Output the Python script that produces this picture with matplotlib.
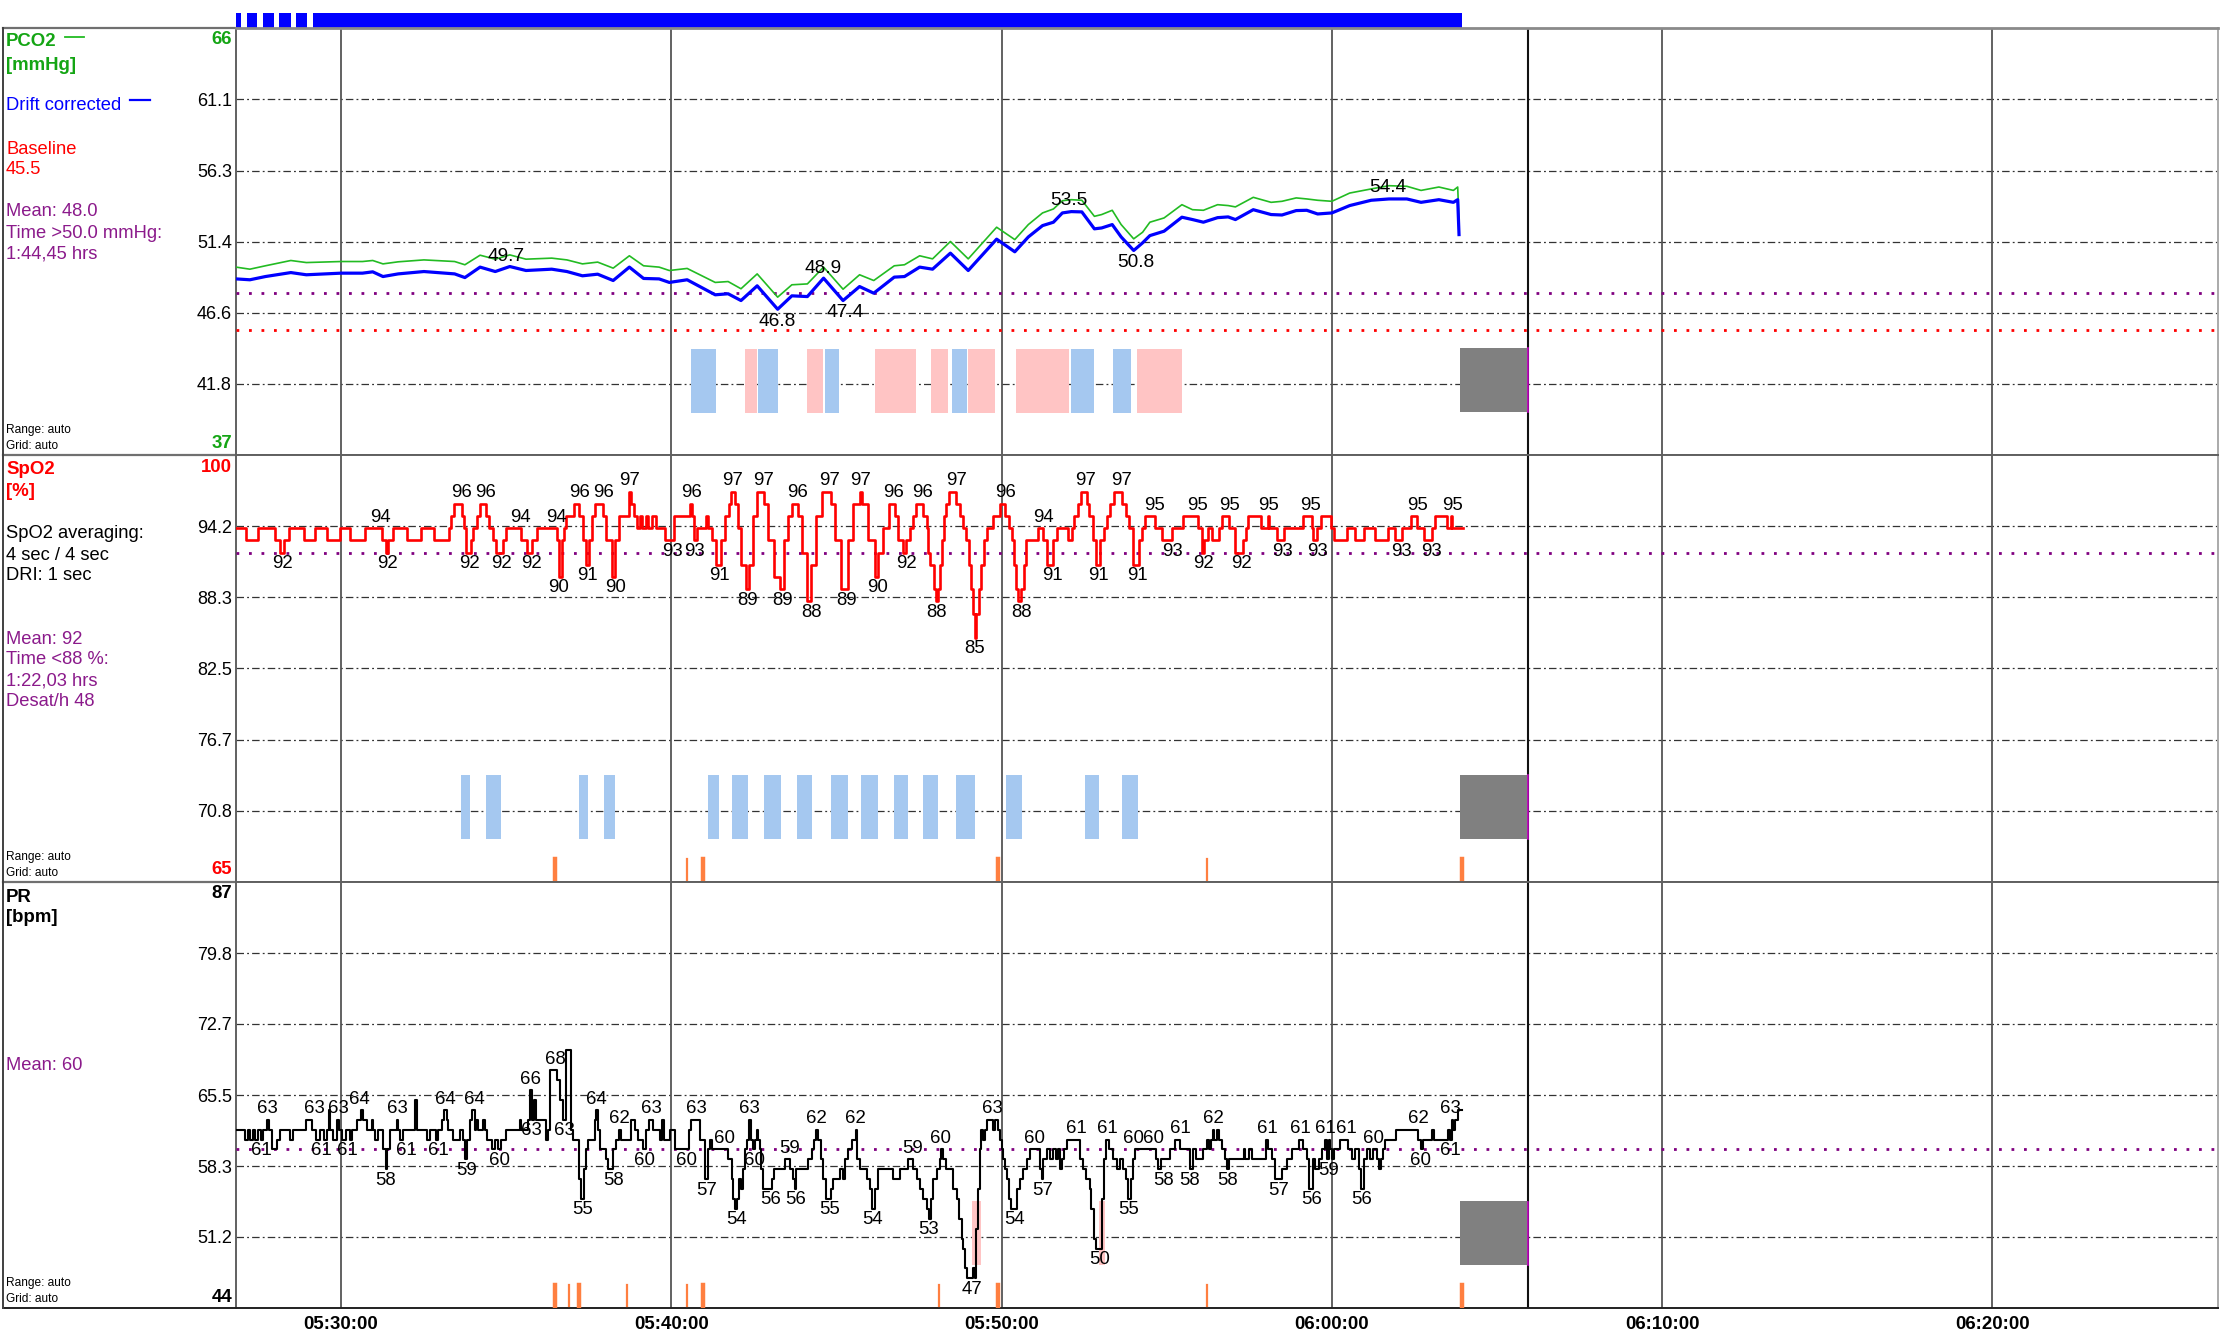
import matplotlib
matplotlib.use('Agg')
import matplotlib.pyplot as plt
from matplotlib.lines import Line2D

plt.rcParams['font.family'] = ['Liberation Sans', 'DejaVu Sans']

W, H = 2223, 1343
fig = plt.figure(figsize=(W / 100, H / 100), dpi=100)

# ---------------- data (time = minutes after 05:00) ----------------
X0, X1 = 26.82, 86.83
time_ticks = [30, 40, 50, 60, 70, 80]
time_labels = ['05:30:00', '05:40:00', '05:50:00', '06:00:00', '06:10:00', '06:20:00']
end_marker = 65.95

pco2_t = [26.82, 27.24, 27.71, 28.48, 28.95, 30.0, 30.65, 30.96, 31.27, 31.73,
          32.51, 33.44, 33.75, 34.21, 34.67, 35.11, 35.6, 36.38, 36.84, 37.31,
          37.77, 38.24, 38.73, 39.16, 39.63, 39.94, 40.48, 41.33, 41.72, 42.11,
          42.6, 43.22, 43.65, 44.12, 44.61, 45.2, 45.7, 46.13, 46.75, 47.06,
          47.52, 47.91, 48.45, 48.99, 49.85,
          50.4, 50.81, 51.24, 51.57, 51.84, 52.11, 52.43, 52.81, 53.03, 53.35,
          53.62, 54.0, 54.27, 54.49, 54.92, 55.46, 55.78, 56.11, 56.54, 56.86,
          57.08, 57.62, 58.16, 58.49, 58.92, 59.24, 59.57, 60.0, 60.54, 61.19,
          61.73, 62.27, 62.7, 63.24, 63.68, 63.81, 63.85]
pco2_drift = [48.96, 48.9, 49.12, 49.39, 49.24, 49.35, 49.35, 49.44, 49.12, 49.3,
              49.46, 49.3, 49.05, 49.76, 49.46, 49.8, 49.53, 49.62, 49.46, 49.17,
              49.28, 48.85, 49.76, 48.99, 48.96, 48.72, 48.9, 47.88, 47.95, 47.49,
              48.49, 46.9, 47.81, 47.76, 49.01, 47.49, 48.44, 47.99, 49.08, 49.12,
              49.76, 49.62, 50.71, 49.53, 51.66,
              50.8, 51.81, 52.58, 52.81, 53.44, 53.53, 53.51, 52.36, 52.42, 52.65,
              51.81, 50.89, 51.41, 51.9, 52.2, 53.15, 52.99, 52.81, 53.12, 53.17,
              52.99, 53.66, 53.33, 53.3, 53.6, 53.62, 53.37, 53.44, 53.94, 54.3,
              54.39, 54.39, 54.16, 54.34, 54.16, 54.34, 51.97]
pco2_raw = [49.76, 49.62, 49.85, 50.21, 50.07, 50.14, 50.14, 50.21, 49.98, 50.12,
            50.25, 50.14, 49.92, 50.57, 50.3, 50.59, 50.3, 50.37, 50.25, 49.98,
            50.1, 49.69, 50.53, 49.85, 49.76, 49.53, 49.67, 48.72, 48.78, 48.29,
            49.3, 47.72, 48.56, 48.62, 49.76, 48.26, 49.24, 48.85, 49.85, 49.92,
            50.53, 50.32, 51.5, 50.32, 52.47,
            51.63, 52.65, 53.44, 53.71, 54.27, 54.34, 54.3, 53.21, 53.33, 53.62,
            52.65, 51.68, 52.13, 52.81, 53.1, 54.0, 53.66, 53.62, 54.0, 53.94,
            53.85, 54.5, 54.16, 54.23, 54.46, 54.39, 54.3, 54.23, 54.79, 55.07,
            55.29, 55.25, 54.97, 55.2, 54.97, 55.2, 52.88]
pco2_baseline = 45.5
pco2_mean = 48.0
pco2_labels = [(35.0, 49.7, 'a'), (43.22, 46.8, 'b'), (44.6, 48.9, 'a'), (45.25, 47.4, 'b'),
               (52.05, 53.5, 'a'), (54.05, 50.8, 'b'), (61.68, 54.4, 'a')]

spo2_t = [26.82, 27.12, 27.49, 28.0, 28.16, 28.27, 28.41, 28.88, 29.22, 29.59,
          29.96, 30.27, 30.73, 31.24, 31.35, 31.42, 31.58, 31.99, 32.43, 32.8,
          33.27, 33.34, 33.41, 33.65, 33.72, 33.78, 33.95, 34.01, 34.12, 34.22,
          34.38, 34.49, 34.59, 34.7, 34.89, 35.0, 35.46, 35.62, 35.78, 35.92,
          36.55, 36.59, 36.68, 36.76, 36.81, 37.05, 37.22, 37.32, 37.41, 37.5,
          37.59, 37.7, 37.93, 38.03, 38.2, 38.3, 38.41, 38.72, 38.77, 38.88,
          38.97, 39.05, 39.11, 39.22, 39.28, 39.42, 39.55, 39.82, 40.09, 40.57,
          40.64, 40.7, 40.77, 41.04, 41.11, 41.24, 41.35, 41.51, 41.62, 41.76,
          41.82, 41.92, 42.03, 42.12, 42.26, 42.35, 42.46, 42.59, 42.8, 42.93,
          43.11, 43.3, 43.41, 43.54, 43.65, 43.84, 43.95, 44.11, 44.24, 44.38,
          44.55, 44.82, 44.96, 45.14, 45.36, 45.5, 45.7, 45.77, 45.97, 46.18,
          46.27, 46.41, 46.58, 46.76, 46.85, 47.01, 47.12, 47.24, 47.32, 47.4,
          47.63, 47.73, 47.78, 47.84, 47.94, 48.02, 48.07, 48.13, 48.19, 48.25,
          48.33, 48.42, 48.63, 48.74, 48.83, 48.91, 49.0, 49.08, 49.14, 49.19,
          49.23, 49.32, 49.37, 49.47, 49.56, 49.73, 49.95, 50.1, 50.22, 50.31,
          50.37, 50.45, 50.51, 50.6, 50.68, 50.74, 51.11, 51.26, 51.38, 51.55,
          51.67, 52.02, 52.13, 52.19, 52.31, 52.39, 52.58, 52.66, 52.77, 52.87,
          52.97, 53.09, 53.18, 53.27, 53.39, 53.64, 53.76, 53.85, 53.99, 54.16,
          54.25, 54.34, 54.63, 54.86, 55.17, 55.5, 55.94, 56.06, 56.14, 56.25,
          56.37, 56.57, 56.68, 56.89, 57.07, 57.3, 57.41, 57.47, 57.84, 58.07,
          58.11, 58.34, 58.54, 59.12, 59.39, 59.44, 59.56, 59.68, 59.97, 60.05,
          60.46, 60.7, 60.97, 61.3, 61.7, 61.9, 62.13, 62.4, 62.58, 62.78,
          63.02, 63.13, 63.48, 63.62, 63.65, 63.97]
spo2_v = [94, 93, 94, 93, 92, 93, 94, 93, 94, 93,
          94, 93, 94, 93, 92, 93, 94, 93, 94, 93,
          94, 95, 96, 95, 94, 92, 93, 94, 95, 96,
          95, 94, 93, 92, 93, 94, 93, 92, 93, 94,
          93, 90, 93, 94, 95, 96, 95, 93, 91, 93,
          95, 96, 95, 93, 90, 93, 95, 97, 96, 95,
          94, 95, 94, 95, 94, 95, 94, 93, 95, 96,
          95, 93, 94, 95, 94, 93, 91, 93, 95, 96,
          97, 96, 94, 91, 89, 91, 95, 97, 96, 93,
          90, 89, 93, 95, 96, 95, 92, 88, 91, 95,
          97, 96, 93, 89, 93, 96, 97, 96, 93, 90,
          92, 94, 96, 95, 93, 92, 93, 94, 95, 96,
          95, 94, 92, 91, 89, 88, 89, 91, 93, 95,
          96, 97, 96, 95, 94, 93, 91, 89, 87, 85,
          87, 89, 91, 93, 94, 95, 96, 95, 94, 93,
          91, 89, 88, 89, 91, 93, 94, 93, 91, 93,
          94, 93, 94, 95, 96, 97, 96, 95, 93, 91,
          93, 94, 95, 96, 97, 96, 95, 94, 91, 93,
          94, 95, 94, 93, 94, 95, 94, 92, 93, 94,
          93, 94, 95, 94, 92, 93, 94, 95, 94, 95,
          94, 93, 94, 95, 94, 93, 94, 95, 94, 93,
          94, 93, 94, 93, 94, 93, 94, 95, 94, 93,
          94, 95, 94, 95, 94, 94]
spo2_mean = 92
spo2_labels = [(28.23, 92, 'b'), (31.18, 94, 'a'), (31.4, 92, 'b'), (33.64, 96, 'a'), (34.38, 96, 'a'),
               (33.9, 92, 'b'), (34.85, 92, 'b'), (35.43, 94, 'a'), (35.77, 92, 'b'), (36.51, 94, 'a'),
               (36.6, 90, 'b'), (37.23, 96, 'a'), (37.46, 91, 'b'), (37.95, 96, 'a'), (38.3, 90, 'b'),
               (38.74, 97, 'a'), (40.03, 93, 'b'), (40.7, 93, 'b'), (40.6, 96, 'a'), (41.45, 91, 'b'),
               (41.85, 97, 'a'), (42.32, 89, 'b'), (42.8, 97, 'a'), (43.36, 89, 'b'), (43.81, 96, 'a'),
               (44.24, 88, 'b'), (44.8, 97, 'a'), (45.32, 89, 'b'), (45.73, 97, 'a'), (46.24, 90, 'b'),
               (46.74, 96, 'a'), (47.12, 92, 'b'), (47.6, 96, 'a'), (48.04, 88, 'b'), (48.63, 97, 'a'),
               (49.19, 85, 'b'), (50.13, 96, 'a'), (50.59, 88, 'b'), (51.26, 94, 'a'), (51.53, 91, 'b'),
               (52.54, 97, 'a'), (52.92, 91, 'b'), (53.64, 97, 'a'), (54.11, 91, 'b'), (54.63, 95, 'a'),
               (55.17, 93, 'b'), (55.94, 95, 'a'), (56.11, 92, 'b'), (56.89, 95, 'a'), (57.26, 92, 'b'),
               (58.07, 95, 'a'), (58.52, 93, 'b'), (59.35, 95, 'a'), (59.56, 93, 'b'), (62.11, 93, 'b'),
               (62.58, 95, 'a'), (63.02, 93, 'b'), (63.64, 95, 'a')]

pr_t = [26.82, 27.1, 27.18, 27.25, 27.33, 27.41, 27.49, 27.57, 27.65, 27.75,
        27.83, 27.9, 28.05, 28.16, 28.46, 28.56, 28.94, 29.11, 29.24, 29.36,
        29.47, 29.57, 29.63, 29.67, 29.77, 29.87, 29.95, 30.02, 30.15, 30.27,
        30.32, 30.47, 30.59, 30.66, 30.78, 30.93, 30.98, 31.03, 31.13, 31.28,
        31.36, 31.4, 31.48, 31.68, 31.73, 31.78, 31.89, 32.24, 32.29, 32.59,
        32.69, 32.89, 32.94, 33.05, 33.11, 33.2, 33.25, 33.38, 33.6, 33.68,
        33.75, 33.82, 33.9, 33.98, 34.05, 34.1, 34.15, 34.3, 34.35, 34.41,
        34.56, 34.66, 34.76, 34.83, 34.99, 35.41, 35.46, 35.67, 35.72, 35.77,
        35.84, 35.9, 36.22, 36.27, 36.32, 36.54, 36.62, 36.72, 36.82, 36.95,
        37.03, 37.21, 37.28, 37.35, 37.41, 37.48, 37.68, 37.73, 37.78, 37.83,
        38.03, 38.08, 38.24, 38.34, 38.42, 38.49, 38.79, 38.89, 38.99, 39.14,
        39.24, 39.32, 39.45, 39.65, 39.73, 39.77, 39.95, 40.1, 40.53, 40.6,
        40.87, 41.02, 41.12, 41.17, 41.22, 41.73, 41.83, 41.88, 41.93, 42.0,
        42.06, 42.11, 42.16, 42.23, 42.3, 42.36, 42.4, 42.46, 42.53, 42.6,
        42.63, 42.68, 42.73, 42.78, 43.04, 43.11, 43.44, 43.59, 43.69, 43.74,
        43.79, 44.15, 44.25, 44.32, 44.38, 44.45, 44.52, 44.6, 44.68, 44.82,
        44.9, 45.11, 45.21, 45.27, 45.36, 45.46, 45.58, 45.61, 45.71, 45.91,
        46.01, 46.09, 46.17, 46.27, 46.72, 46.92, 47.17, 47.33, 47.43, 47.53,
        47.63, 47.73, 47.79, 47.85, 47.93, 48.03, 48.13, 48.16, 48.23, 48.33,
        48.54, 48.64, 48.72, 48.79, 48.84, 48.89, 48.94, 49.14, 49.19, 49.24,
        49.29, 49.34, 49.39, 49.44, 49.5, 49.57, 49.75, 49.8, 49.9, 49.95,
        50.0, 50.05, 50.1, 50.15, 50.23, 50.3, 50.47, 50.55, 50.66, 50.76,
        50.86, 51.16, 51.21, 51.26, 51.36, 51.46, 51.56, 51.66, 51.72, 51.77,
        51.82, 51.89, 51.97, 52.37, 52.47, 52.57, 52.67, 52.72, 52.8, 52.86,
        53.03, 53.1, 53.16, 53.26, 53.38, 53.48, 53.58, 53.68, 53.78, 53.83,
        53.91, 53.97, 54.04, 54.69, 54.74, 54.84, 55.1, 55.25, 55.4, 55.7,
        55.8, 55.9, 56.11, 56.22, 56.27, 56.34, 56.4, 56.44, 56.52, 56.57,
        56.67, 56.77, 56.82, 56.9, 57.33, 57.38, 57.48, 57.58, 58.01, 58.08,
        58.18, 58.28, 58.49, 58.64, 58.79, 58.99, 59.14, 59.24, 59.32, 59.42,
        59.5, 59.6, 59.7, 59.8, 59.85, 59.9, 59.95, 60.0, 60.05, 60.25,
        60.5, 60.61, 60.71, 60.81, 60.88, 60.96, 61.06, 61.16, 61.24, 61.36,
        61.44, 61.48, 61.56, 61.61, 61.95, 62.62, 62.69, 62.77, 63.03, 63.1,
        63.53, 63.58, 63.63, 63.68, 63.73, 63.83, 63.94]
pr_v = [62, 61, 62, 61, 62, 61, 62, 61, 62, 63,
        62, 60, 61, 62, 61, 62, 63, 62, 61, 62,
        61, 62, 64, 62, 61, 63, 62, 61, 62, 61,
        62, 63, 64, 63, 62, 63, 62, 61, 62, 60,
        58, 60, 62, 63, 62, 61, 62, 65, 62, 61,
        62, 61, 62, 63, 64, 63, 62, 61, 62, 61,
        59, 61, 63, 64, 62, 63, 62, 63, 62, 61,
        60, 61, 60, 61, 62, 63, 62, 63, 66, 63,
        65, 63, 61, 62, 68, 67, 65, 63, 70, 62,
        61, 57, 55, 58, 60, 61, 63, 64, 62, 60,
        59, 58, 60, 61, 62, 61, 63, 62, 61, 60,
        62, 63, 62, 61, 63, 61, 62, 60, 62, 63,
        61, 57, 60, 61, 60, 59, 57, 55, 54, 55,
        57, 56, 58, 60, 61, 63, 61, 60, 61, 62,
        61, 60, 58, 56, 57, 58, 59, 58, 57, 56,
        58, 59, 60, 61, 62, 61, 59, 57, 55, 56,
        57, 58, 57, 59, 60, 61, 62, 59, 58, 57,
        56, 54, 56, 58, 57, 58, 59, 58, 57, 56,
        55, 54, 53, 55, 57, 58, 59, 60, 59, 58,
        56, 55, 53, 51, 50, 48, 47, 48, 47, 52,
        56, 60, 62, 61, 62, 63, 62, 63, 62, 61,
        60, 59, 58, 57, 55, 54, 56, 57, 58, 59,
        60, 58, 57, 59, 60, 59, 60, 59, 60, 58,
        59, 60, 61, 59, 58, 57, 56, 54, 51, 50,
        55, 59, 61, 60, 59, 58, 59, 58, 57, 55,
        57, 59, 60, 59, 58, 59, 60, 61, 60, 58,
        60, 59, 60, 61, 60, 61, 62, 61, 62, 61,
        60, 59, 58, 59, 60, 59, 60, 59, 61, 60,
        59, 57, 58, 59, 60, 61, 60, 59, 56, 59,
        58, 59, 60, 61, 59, 61, 60, 59, 60, 61,
        60, 59, 60, 58, 56, 59, 60, 59, 60, 59,
        58, 59, 60, 61, 62, 61, 60, 61, 62, 61,
        62, 61, 63, 62, 63, 64, 64]
pr_mean = 60
pr_labels = [(27.78, 63, 'a'), (27.6, 61, 'b'), (29.21, 63, 'a'), (29.92, 63, 'a'), (29.42, 61, 'b'),
             (30.2, 61, 'b'), (30.57, 64, 'a'), (31.36, 58, 'b'), (31.71, 63, 'a'), (31.99, 61, 'b'),
             (32.94, 61, 'b'), (33.15, 64, 'a'), (33.8, 59, 'b'), (34.05, 64, 'a'), (34.81, 60, 'b'),
             (35.75, 66, 'a'), (35.77, 63, 'b'), (36.5, 68, 'a'), (36.75, 63, 'b'), (37.3, 55, 'b'),
             (37.73, 64, 'a'), (38.24, 58, 'b'), (38.44, 62, 'a'), (39.19, 60, 'b'), (39.4, 63, 'a'),
             (40.47, 60, 'b'), (40.76, 63, 'a'), (41.08, 57, 'b'), (41.62, 60, 'a'), (41.98, 54, 'b'),
             (42.36, 63, 'a'), (42.53, 60, 'b'), (43.01, 56, 'b'), (43.77, 56, 'b'), (43.59, 59, 'a'),
             (44.4, 62, 'a'), (44.8, 55, 'b'), (45.58, 62, 'a'), (46.09, 54, 'b'), (47.31, 59, 'a'),
             (48.16, 60, 'a'), (47.79, 53, 'b'), (49.09, 47, 'b'), (49.72, 63, 'a'), (50.4, 54, 'b'),
             (51.01, 60, 'a'), (51.23, 57, 'b'), (52.25, 61, 'a'), (53.2, 61, 'a'), (52.96, 50, 'b'),
             (53.83, 55, 'b'), (54.0, 60, 'a'), (54.61, 60, 'a'), (54.89, 58, 'b'), (55.42, 61, 'a'),
             (55.7, 58, 'b'), (56.4, 62, 'a'), (56.84, 58, 'b'), (58.05, 61, 'a'), (58.39, 57, 'b'),
             (59.06, 61, 'a'), (59.39, 56, 'b'), (59.8, 61, 'a'), (60.45, 61, 'a'), (59.9, 59, 'b'),
             (60.89, 56, 'b'), (61.26, 60, 'a'), (62.62, 62, 'a'), (62.69, 60, 'b'), (63.58, 63, 'a'),
             (63.6, 61, 'b')]

# event bars (start, end)
pco2_blue_events = [(40.59, 41.36), (42.63, 43.22), (44.66, 45.09), (48.5, 48.96),
                    (52.09, 52.8), (53.38, 53.91)]
pco2_pink_events = [(42.23, 42.6), (44.12, 44.58), (46.18, 47.4), (47.86, 48.37),
                    (48.99, 49.81), (50.43, 52.03), (54.11, 55.46)]
spo2_blue_events = [(33.62, 33.92), (34.4, 34.85), (37.21, 37.48), (37.96, 38.31),
                    (41.12, 41.45), (41.83, 42.33), (42.81, 43.33), (43.81, 44.26),
                    (44.84, 45.34), (45.74, 46.27), (46.75, 47.18), (47.63, 48.08),
                    (48.63, 49.21), (50.14, 50.61), (52.52, 52.95), (53.65, 54.13)]
pr_pink_events = [(49.11, 49.39), (52.96, 53.14)]
gap_block = (63.87, 65.95)
spo2_artifacts = [(36.48, 'thick'), (40.47, 'thin'), (40.96, 'thick'), (49.9, 'thick'),
                  (56.22, 'thin'), (63.93, 'thick')]
pr_artifacts = [(36.47, 'thick'), (36.91, 'thin'), (37.21, 'thick'), (38.67, 'thin'),
                (40.47, 'thin'), (40.96, 'thick'), (48.09, 'thin'), (49.88, 'thick'),
                (56.22, 'thin'), (63.94, 'thick')]
record_segments = [(26.82, 26.96), (27.15, 27.46), (27.64, 27.97), (28.12, 28.49),
                   (28.64, 28.97), (29.15, 63.94)]

pco2_range = (37, 66)
pco2_ticks = [41.83, 46.66, 51.49, 56.32, 61.15]
pco2_ticklabels = ['41.8', '46.6', '51.4', '56.3', '61.1']
spo2_range = (65, 100)
spo2_ticks = [70.83, 76.67, 82.5, 88.33, 94.17]
spo2_ticklabels = ['70.8', '76.7', '82.5', '88.3', '94.2']
pr_range = (44, 87)
pr_ticks = [51.17, 58.33, 65.5, 72.67, 79.83]
pr_ticklabels = ['51.2', '58.3', '65.5', '72.7', '79.8']

# ---------------- styles ----------------
GREEN_T = '#14A514'
GREEN_L = '#22BB22'
BLUE = '#0000FF'
RED = '#FF0000'
PURPLE = '#8B1A8B'
PINK = '#FFC4C4'
LBLUE = '#A5C8F0'
GRAY = '#808080'
ORANGE = '#FF7F40'
GRID_LS = (0, (6, 2.5, 1.5, 2.5))
DOT_LS = (0, (1, 3.5))

PX_L, PX_R = 236, 2218
panels_px = [(28, 455), (455, 882), (882, 1308)]

bg = fig.add_axes([0, 0, 1, 1], zorder=0)
bg.set_xlim(0, W)
bg.set_ylim(H, 0)
bg.axis('off')

axes = []
for top, bot in panels_px:
    ax = fig.add_axes([PX_L / W, 1 - bot / H, (PX_R - PX_L) / W, (bot - top) / H], zorder=2)
    ax.set_xlim(X0, X1)
    ax.set_facecolor('white')
    for s in ax.spines.values():
        s.set_color('#606060')
        s.set_linewidth(1.4)
    ax.spines['right'].set_color('#aaaaaa')
    ax.tick_params(length=0)
    ax.set_xticks(time_ticks)
    ax.set_xticklabels([])
    axes.append(ax)
ax1, ax2, ax3 = axes
ax1.spines['top'].set_color('#8a8a8a')
ax1.spines['top'].set_linewidth(2)
ax3.spines['bottom'].set_color('#202020')

# borders of the label column
for y in [28, 455, 882]:
    bg.add_line(Line2D([3, PX_L], [y, y], color='#707070', lw=1.6))
bg.add_line(Line2D([3, PX_L], [1308, 1308], color='#202020', lw=1.4))
bg.add_line(Line2D([3, 3], [28, 1308], color='#404040', lw=1.4))

def setup_y(ax, rng, ticks, labels):
    ax.set_ylim(*rng)
    ax.set_yticks(ticks)
    ax.set_yticklabels(labels, fontsize=13)
    ax.tick_params(axis='y', pad=3)
    for v in ticks:
        ax.axhline(v, color='#333333', lw=0.9, ls=GRID_LS, zorder=1)
    for t in time_ticks:
        ax.axvline(t, color='#555555', lw=1.3, zorder=1)
    ax.axvline(end_marker, color='#111111', lw=1.5, zorder=1)

setup_y(ax1, pco2_range, pco2_ticks, pco2_ticklabels)
setup_y(ax2, spo2_range, spo2_ticks, spo2_ticklabels)
setup_y(ax3, pr_range, pr_ticks, pr_ticklabels)

ax3.set_xticklabels(time_labels, fontsize=13.4, fontweight='bold')
ax3.tick_params(axis='x', pad=6)

def label_points(ax, labels, fs=13.4, off=7.8):
    for t, v, pos in labels:
        dy = off if pos == 'a' else -off
        ax.annotate(f'{v}', (t, v), xytext=(0, dy), textcoords='offset points',
                    ha='center', va='center', fontsize=fs, color='black', zorder=6)

# ---- panel 1: PCO2
for a, b in pco2_blue_events:
    ax1.axvspan(a, b, ymin=0.098, ymax=0.248, color=LBLUE, lw=0, zorder=2)
for a, b in pco2_pink_events:
    ax1.axvspan(a, b, ymin=0.098, ymax=0.248, color=PINK, lw=0, zorder=2)
ax1.axhline(pco2_mean, color='#800080', lw=2, ls=DOT_LS, zorder=3)
ax1.axhline(pco2_baseline, color=RED, lw=2, ls=DOT_LS, zorder=3)
ax1.plot(pco2_t, pco2_raw, color=GREEN_L, lw=1.2, zorder=4)
ax1.plot(pco2_t, pco2_drift, color=BLUE, lw=2.3, zorder=5)
label_points(ax1, pco2_labels, fs=13.8, off=8)

# ---- panel 2: SpO2
for a, b in spo2_blue_events:
    ax2.axvspan(a, b, ymin=0.10, ymax=0.25, color=LBLUE, lw=0, zorder=2)
ax2.axhline(spo2_mean, color='#800080', lw=2, ls=DOT_LS, zorder=3)
ax2.plot(spo2_t, spo2_v, color=RED, lw=1.9, drawstyle='steps-post', zorder=5)
label_points(ax2, spo2_labels)

# ---- panel 3: PR
for a, b in pr_pink_events:
    ax3.axvspan(a, b, ymin=0.10, ymax=0.25, color=PINK, lw=0, zorder=2)
ax3.axhline(pr_mean, color='#800080', lw=2, ls=DOT_LS, zorder=3)
ax3.plot(pr_t, pr_v, color='black', lw=1.5, drawstyle='steps-post', zorder=5)
label_points(ax3, pr_labels)

# gap blocks and artifact ticks
for ax in axes:
    ax.axvspan(gap_block[0], gap_block[1], ymin=0.10, ymax=0.25, color=GRAY, lw=0, zorder=2)
    ax.axvline(gap_block[1], ymin=0.10, ymax=0.25, color='#C000C0', lw=1.2, zorder=3)
for ax, arts in [(ax2, spo2_artifacts), (ax3, pr_artifacts)]:
    for t, kind in arts:
        ax.axvline(t, ymin=0.005, ymax=0.055, color=ORANGE,
                   lw=3.2 if kind == 'thick' else 1.6, zorder=3)

# top recording bar
bar = fig.add_axes([PX_L / W, 1 - 28 / H, (PX_R - PX_L) / W, 15 / H], zorder=1)
bar.set_xlim(X0, X1)
bar.set_ylim(0, 1)
bar.axis('off')
bar.broken_barh([(a, b - a) for a, b in record_segments], (0, 1), facecolors=BLUE)

# ---------------- left column texts ----------------
LX = 6
FS = 13.2
def lt(y, s, color='black', bold=False, fs=FS):
    bg.text(LX, y, s, color=color, fontsize=fs, fontweight='bold' if bold else 'normal',
            ha='left', va='center')

lt(42, 'PCO2', GREEN_T, True, 13.4)
bg.add_line(Line2D([65, 84], [37, 37], color=GREEN_L, lw=1.3))
lt(65, '[mmHg]', GREEN_T, True, 13.4)
lt(106, 'Drift corrected', BLUE)
bg.add_line(Line2D([130, 150], [100, 100], color=BLUE, lw=1.6))
lt(149, 'Baseline', RED)
lt(169, '45.5', RED)
lt(211, 'Mean: 48.0', PURPLE)
lt(233, 'Time >50.0 mmHg:', PURPLE)
lt(254, '1:44,45 hrs', PURPLE)
lt(430, 'Range: auto', fs=8.6)
lt(446, 'Grid: auto', fs=8.6)

lt(469, 'SpO2', RED, True, 13.4)
lt(492, '[%]', RED, True, 13.4)
lt(533, 'SpO2 averaging:')
lt(555, '4 sec / 4 sec')
lt(576, 'DRI: 1 sec')
lt(639, 'Mean: 92', PURPLE)
lt(660, 'Time <88 %:', PURPLE)
lt(681, '1:22,03 hrs', PURPLE)
lt(702, 'Desat/h 48', PURPLE)
lt(857, 'Range: auto', fs=8.6)
lt(873, 'Grid: auto', fs=8.6)

lt(897, 'PR', 'black', True, 13.4)
lt(918, '[bpm]', 'black', True, 13.4)
lt(1066, 'Mean: 60', PURPLE)
lt(1283, 'Range: auto', fs=8.6)
lt(1299, 'Grid: auto', fs=8.6)

# range end labels
def rl(y, s, color):
    bg.text(232, y, s, color=color, fontsize=13.4, fontweight='bold', ha='right', va='center')
rl(40, str(pco2_range[1]), GREEN_T)
rl(443, str(pco2_range[0]), GREEN_T)
rl(467, str(spo2_range[1]), RED)
rl(870, str(spo2_range[0]), RED)
rl(893, str(pr_range[1]), 'black')
rl(1297, str(pr_range[0]), 'black')

fig.savefig('out.png', dpi=100)
